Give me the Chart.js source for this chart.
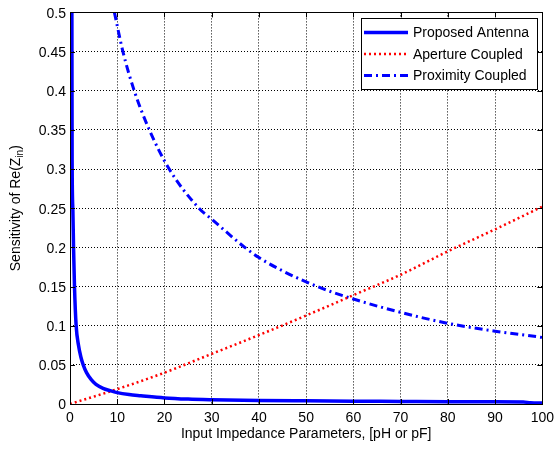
<!DOCTYPE html>
<html>
<head>
<meta charset="utf-8">
<script src="https://cdn.jsdelivr.net/npm/chart.js@4.4.1/dist/chart.umd.min.js"></script>
<style>
  html, body { margin: 0; padding: 0; background: #fff; }
  canvas { display: block; }
</style>
</head>
<body>
<canvas id="chart" width="560" height="449"></canvas>
<script>
// values
const seriesNames = ['Proposed Antenna', 'Aperture Coupled', 'Proximity Coupled'];

const proposedX = [0.4, 0.45, 0.6, 0.75, 0.95, 1.3, 1.8, 2.3, 2.8, 3.5, 4.5, 5.5, 7, 8.5, 10, 12.5, 15, 20, 25, 30, 40, 50, 60, 70, 80, 90, 96, 97.5, 100];
const proposedY = [0.5, 0.31, 0.25, 0.2, 0.15, 0.1, 0.075, 0.06, 0.05, 0.04, 0.031, 0.025, 0.02, 0.017, 0.0145, 0.012, 0.0105, 0.0078, 0.0063, 0.0055, 0.0045, 0.004, 0.0036, 0.0033, 0.003, 0.0028, 0.0027, 0.0015, 0.0012];

const apertureX = [0, 10, 20, 30, 40, 50, 60, 70, 80, 90, 100];
const apertureY = [0, 0.019, 0.04, 0.064, 0.088, 0.113, 0.139, 0.165, 0.195, 0.223, 0.252];

const proximityX = [9.4, 11.2, 13.6, 16.8, 21, 27.3, 30, 37, 40, 45, 50, 55, 60, 70, 80, 90, 100];
const proximityY = [0.5, 0.45, 0.4, 0.35, 0.3, 0.25, 0.236, 0.2, 0.187, 0.17, 0.156, 0.144, 0.134, 0.117, 0.103, 0.093, 0.085];

const xLabel = 'Input Impedance Parameters, [pH or pF]';
const yLabelMain = 'Sensitivity of Re(Z';
const yLabelSub = 'in';
const yLabelEnd = ')';

const FONT = '"Liberation Sans", Arial, sans-serif';

function puntos(xs, ys) {
  return xs.map((x, i) => ({ x, y: ys[i] }));
}

// marco, marcas interiores, leyenda y título del eje y
const marcoPlugin = {
  id: 'marco',
  afterDatasetsDraw(chart) {
    const ctx = chart.ctx;
    const a = chart.chartArea;
    const sx = chart.scales.x, sy = chart.scales.y;
    ctx.save();
    ctx.strokeStyle = '#000';
    ctx.lineWidth = 1;
    ctx.setLineDash([]);
    ctx.strokeRect(Math.round(a.left) + 0.5, Math.round(a.top) + 0.5,
      Math.round(a.right - a.left), Math.round(a.bottom - a.top));

    // marcas hacia dentro
    ctx.beginPath();
    sx.ticks.forEach(t => {
      const p = Math.round(sx.getPixelForValue(t.value)) + 0.5;
      ctx.moveTo(p, a.bottom); ctx.lineTo(p, a.bottom - 5);
      ctx.moveTo(p, a.top); ctx.lineTo(p, a.top + 5);
    });
    sy.ticks.forEach(t => {
      const p = Math.round(sy.getPixelForValue(t.value)) + 0.5;
      ctx.moveTo(a.left, p); ctx.lineTo(a.left + 5, p);
      ctx.moveTo(a.right, p); ctx.lineTo(a.right - 5, p);
    });
    ctx.stroke();

    // leyenda
    const lx = 361.5, ly = 18.5, lw = 176, lh = 71;
    ctx.fillStyle = '#fff';
    ctx.fillRect(lx, ly, lw, lh);
    ctx.strokeRect(lx, ly, lw, lh);
    const filas = [32.5, 54, 75.5];
    ctx.font = '14px ' + FONT;
    ctx.textBaseline = 'middle';
    ctx.textAlign = 'left';
    chart.data.datasets.forEach((ds, i) => {
      const y = filas[i];
      ctx.beginPath();
      ctx.strokeStyle = ds.borderColor;
      ctx.lineWidth = ds.borderWidth;
      ctx.setLineDash(ds.borderDash || []);
      ctx.moveTo(364, y);
      ctx.lineTo(408, y);
      ctx.stroke();
      ctx.fillStyle = '#000';
      ctx.fillText(ds.label, 413, y + 1);
    });
    ctx.restore();
  },
  afterDraw(chart) {
    const ctx = chart.ctx;
    const a = chart.chartArea;
    ctx.save();
    ctx.fillStyle = '#000';
    ctx.font = '14px ' + FONT;
    const w1 = ctx.measureText(yLabelMain).width;
    const w3 = ctx.measureText(yLabelEnd).width;
    ctx.font = '10px ' + FONT;
    const w2 = ctx.measureText(yLabelSub).width;
    const total = w1 + w2 + w3;
    ctx.translate(19.5, (a.top + a.bottom) / 2);
    ctx.rotate(-Math.PI / 2);
    ctx.textBaseline = 'alphabetic';
    ctx.textAlign = 'left';
    let x = -total / 2;
    ctx.font = '14px ' + FONT;
    ctx.fillText(yLabelMain, x, 0);
    x += w1;
    ctx.font = '10px ' + FONT;
    ctx.fillText(yLabelSub, x, 3.5);
    x += w2;
    ctx.font = '14px ' + FONT;
    ctx.fillText(yLabelEnd, x, 0);
    ctx.restore();
  }
};

const ctx = document.getElementById('chart');

new Chart(ctx, {
  type: 'line',
  data: {
    datasets: [
      {
        label: seriesNames[0],
        data: puntos(proposedX, proposedY),
        borderColor: '#0000ff',
        borderWidth: 3.5,
        cubicInterpolationMode: 'monotone'
      },
      {
        label: seriesNames[1],
        data: puntos(apertureX, apertureY),
        borderColor: '#ff0000',
        borderWidth: 2.5,
        borderDash: [2, 3],
        cubicInterpolationMode: 'monotone'
      },
      {
        label: seriesNames[2],
        data: puntos(proximityX, proximityY),
        borderColor: '#0000ff',
        borderWidth: 3,
        borderDash: [8, 4, 2, 4],
        cubicInterpolationMode: 'monotone'
      }
    ]
  },
  options: {
    responsive: false,
    animation: false,
    layout: { padding: { top: 11, right: 12, left: 0, bottom: 0 } },
    elements: { point: { radius: 0 } },
    plugins: {
      legend: { display: false },
      tooltip: { enabled: false }
    },
    scales: {
      x: {
        type: 'linear',
        min: 0,
        max: 100,
        ticks: {
          stepSize: 10,
          padding: 6,
          color: '#000',
          font: { family: FONT, size: 14 }
        },
        grid: { color: '#000', lineWidth: 1, drawTicks: false },
        border: { display: false, dash: [1, 2] },
        title: {
          display: true,
          text: xLabel,
          color: '#000',
          font: { family: FONT, size: 14 },
          padding: { top: 0, bottom: 6 }
        },
        afterFit(scale) { scale.height = 45; }
      },
      y: {
        type: 'linear',
        min: 0,
        max: 0.5,
        ticks: {
          stepSize: 0.05,
          padding: 4,
          labelOffset: 1.5,
          color: '#000',
          font: { family: FONT, size: 14 },
          callback: v => String(+v.toFixed(2))
        },
        grid: { color: '#000', lineWidth: 1, drawTicks: false },
        border: { display: false, dash: [1, 2] },
        afterFit(scale) { scale.width = 70; }
      }
    }
  },
  plugins: [marcoPlugin]
});
</script>
</body>
</html>
